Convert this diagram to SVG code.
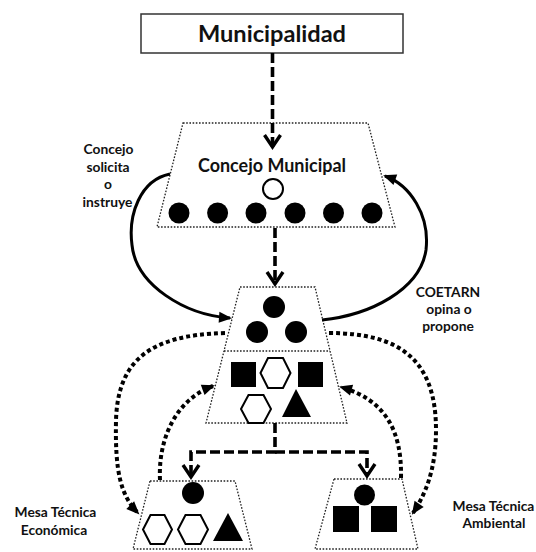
<svg xmlns="http://www.w3.org/2000/svg" width="536" height="552" viewBox="0 0 536 552">
<defs>
<style>
.t{font-family:Lato,"Open Sans","Liberation Sans",sans-serif;fill:#111;text-anchor:middle}
.b{font-weight:bold}
.s{font-size:13.8px}
.trap{fill:none;stroke:#222;stroke-width:1.3;stroke-dasharray:1.6 1.6}
.dot{fill:#000}
.hex{fill:#fff;stroke:#000;stroke-width:2}
.dash{fill:none;stroke:#000;stroke-width:3.6;stroke-dasharray:10 4}
.solid{fill:none;stroke:#000;stroke-width:3}
.dotted{fill:none;stroke:#000;stroke-width:4;stroke-dasharray:4 3}
</style>
<marker id="chev" markerUnits="userSpaceOnUse" markerWidth="24" markerHeight="24" viewBox="-14 -12 24 24" refX="0" refY="0" orient="auto">
<path d="M-12,-8 L0,0 L-12,8" fill="none" stroke="#000" stroke-width="3.4"/>
</marker>
<marker id="tri" markerUnits="userSpaceOnUse" markerWidth="24" markerHeight="24" viewBox="-14 -12 24 24" refX="0" refY="0" orient="auto">
<path d="M-11,-5.5 L2,0 L-11,5.5 Z" fill="#000"/>
</marker>
</defs>
<rect width="536" height="552" fill="#fff"/>

<g id="municipalidad">
<rect x="141" y="14" width="262" height="39" fill="#fff" stroke="#333" stroke-width="1.5"/>
<text class="t b" x="272" y="42" font-size="23" textLength="148" lengthAdjust="spacingAndGlyphs">Municipalidad</text>
</g>

<g id="concejo-municipal">
<polygon class="trap" points="183,123 368,123 395,227 157,227"/>
<text class="t b" x="272" y="172" font-size="18" textLength="148" lengthAdjust="spacingAndGlyphs">Concejo Municipal</text>
<circle cx="273" cy="189" r="10" fill="#fff" stroke="#000" stroke-width="2"/>
<circle class="dot" cx="179" cy="213" r="10.5"/>
<circle class="dot" cx="217.6" cy="213" r="10.5"/>
<circle class="dot" cx="256" cy="213" r="10.5"/>
<circle class="dot" cx="295" cy="213" r="10.5"/>
<circle class="dot" cx="333.5" cy="213" r="10.5"/>
<circle class="dot" cx="372" cy="213" r="10.5"/>
</g>

<g id="coetarn">
<polygon class="trap" points="240,287 315,287 347,423 206,423"/>
<line x1="224" y1="351" x2="330" y2="351" stroke="#222" stroke-width="1.3" stroke-dasharray="1.6 1.6"/>
<circle class="dot" cx="274" cy="307" r="11"/>
<circle class="dot" cx="257" cy="332" r="11"/>
<circle class="dot" cx="296" cy="332" r="11"/>
<rect class="dot" x="231" y="362" width="25" height="25"/>
<polygon class="hex" points="260.5,373 268,358 283,358 290.5,373 283,388 268,388"/>
<rect class="dot" x="298" y="362" width="25" height="25"/>
<polygon class="hex" points="241,409 248.5,395 263.5,395 271,409 263.5,423 248.5,423"/>
<polygon class="dot" points="296,389 311,417 282,417"/>
</g>

<g id="mesa-economica">
<polygon class="trap" points="150,481 235,481 252,549 133,549"/>
<circle class="dot" cx="193" cy="493" r="11"/>
<polygon class="hex" points="143,529.5 150.5,515 164.5,515 172,529.5 164.5,544 150.5,544"/>
<polygon class="hex" points="178,529.5 185.5,515 200.5,515 208,529.5 200.5,544 185.5,544"/>
<polygon class="dot" points="228,513 243,541 213,541"/>
<text class="t b s"><tspan x="55.5" y="517">Mesa Técnica</tspan><tspan x="54" y="535">Económica</tspan></text>
</g>

<g id="mesa-ambiental">
<polygon class="trap" points="334,479 402,479 418,549 315,549"/>
<circle class="dot" cx="364.5" cy="495" r="10.5"/>
<rect class="dot" x="333" y="506" width="26" height="26"/>
<rect class="dot" x="371" y="506" width="26" height="26"/>
<text class="t b s"><tspan x="493.5" y="511">Mesa Técnica</tspan><tspan x="494" y="528">Ambiental</tspan></text>
</g>

<g id="connectors">
<path class="dash" d="M272.5,53 V147" marker-end="url(#chev)"/>
<path class="dash" d="M275,228 V284" marker-end="url(#chev)"/>
<path class="dash" d="M275,423 V452 H191 V477" marker-end="url(#chev)"/>
<path class="dash" d="M275,452 H367 V476" marker-end="url(#chev)"/>
<path class="solid" d="M170,174 C140,180 128,215 132,245 C136,285 185,315 230,318" marker-end="url(#tri)"/>
<path class="solid" d="M322,320 C370,315 420,290 426,250 C430,215 410,185 385,176" marker-end="url(#tri)"/>
<path class="dotted" d="M225,333 C150,335 118,360 116,420 C115,470 120,495 138,513" marker-end="url(#tri)"/>
<path class="dotted" d="M160,480 C158,440 175,400 213,386" marker-end="url(#tri)"/>
<path class="dotted" d="M329,333 C400,333 436,360 436,430 C436,470 425,495 413,513" marker-end="url(#tri)"/>
<path class="dotted" d="M401,478 C402,430 385,400 341,387" marker-end="url(#tri)"/>
<text class="t b s"><tspan x="108.5" y="154">Concejo</tspan><tspan x="108" y="172">solicita</tspan><tspan x="108" y="189">o</tspan><tspan x="107.5" y="207">instruye</tspan></text>
<text class="t b s"><tspan x="448" y="297">COETARN</tspan><tspan x="449" y="314">opina o</tspan><tspan x="448" y="331">propone</tspan></text>
</g>
</svg>
